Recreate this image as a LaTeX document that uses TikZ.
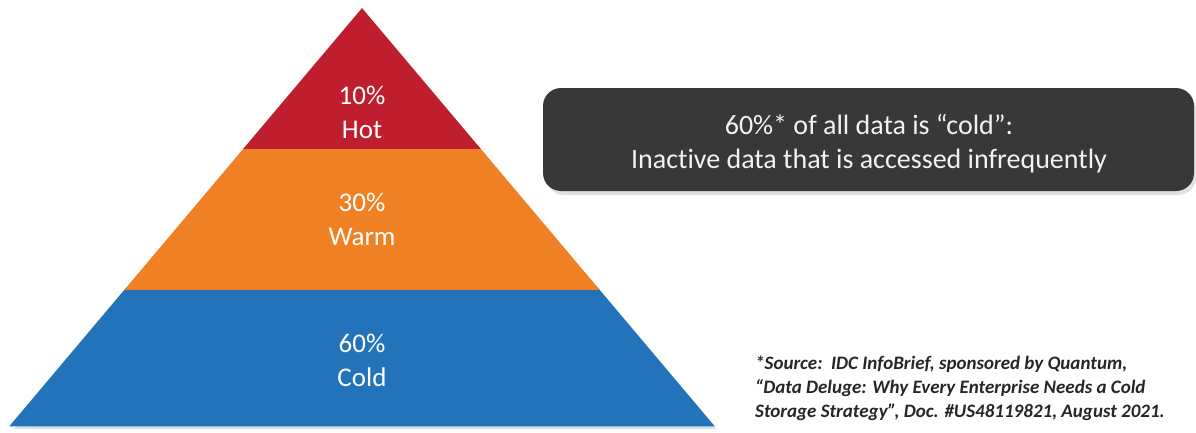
\documentclass[tikz,border=0pt]{standalone}
\usepackage{fontspec}
\setmainfont{Carlito}[Ligatures=NoCommon]
\usetikzlibrary{positioning}
\definecolor{hotred}{HTML}{BE1E2D}
\definecolor{warmorange}{HTML}{F08024}
\definecolor{coldblue}{HTML}{2273BA}
\definecolor{boxgray}{HTML}{383838}
\definecolor{notegray}{HTML}{262626}
\begin{document}
\begin{tikzpicture}[x=1pt,y=-1pt,
    tier/.style={draw=white,line width=2.5pt,line join=miter},
    tiertext/.style={text=white,align=center,font=\fontsize{27}{34}\selectfont},
    callout/.style={fill=boxgray,rounded corners=18pt},
    calltext/.style={text=white!95!black,align=center,font=\fontsize{28}{34}\selectfont},
    sourcenote/.style={text=notegray,align=left,anchor=north west,inner sep=0pt,
        font=\fontsize{19}{24}\selectfont\bfseries\itshape}]
    \useasboundingbox (0,0) rectangle (1196,432);

    % soft shadows
    \fill[black!12] (364,12) -- (716,429) -- (14,429) -- cycle;
    \fill[black!12, rounded corners=18pt] (546,91) rectangle (1196,195);

    % pyramid tiers
    \fill[tier,coldblue] (127.1,288.5) -- (596.9,288.5) -- (712,425) -- (12,425) -- cycle;
    \fill[tier,warmorange] (246,147.5) -- (478,147.5) -- (596.9,288.5) -- (127.1,288.5) -- cycle;
    \fill[tier,hotred] (362,10) -- (478,147.5) -- (246,147.5) -- cycle;
    \node[tiertext] (hot) at (362,112) {10\%\\Hot};
    \node[tiertext] (warm) at (362,219) {30\%\\Warm};
    \node[tiertext] (cold) at (362,360) {60\%\\Cold};

    % callout
    \fill[callout] (543,88) rectangle (1194,191);
    \node[calltext] (coldshare) at (869,144) {60\%* of all data is “cold”:\\Inactive data that is accessed infrequently};

    % source
    \node[sourcenote] (source) at (755,356) {*Source:\ \ IDC InfoBrief, sponsored by Quantum,\\“Data Deluge: Why Every Enterprise Needs a Cold\\Storage Strategy”, Doc. \#US48119821, August 2021.};
\end{tikzpicture}
\end{document}
